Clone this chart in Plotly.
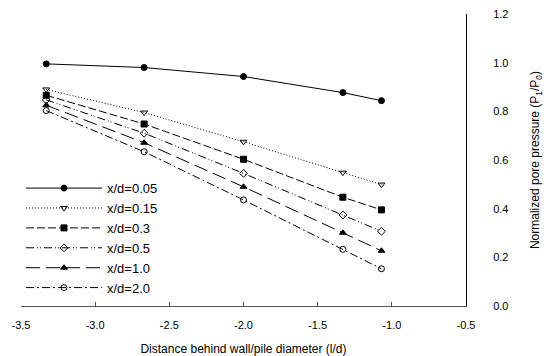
import plotly.graph_objects as go

x_vals = [-3.33, -2.67, -2.0, -1.33, -1.07]
series_names = ["x/d=0.05", "x/d=0.15", "x/d=0.3", "x/d=0.5", "x/d=1.0", "x/d=2.0"]
y_005 = [0.995, 0.98, 0.943, 0.877, 0.844]
y_015 = [0.89, 0.795, 0.675, 0.548, 0.499]
y_03 = [0.866, 0.748, 0.603, 0.447, 0.395]
y_05 = [0.847, 0.71, 0.545, 0.374, 0.307]
y_10 = [0.825, 0.671, 0.49, 0.301, 0.227]
y_20 = [0.803, 0.634, 0.436, 0.233, 0.153]
series_values = [y_005, y_015, y_03, y_05, y_10, y_20]

x_tickvals = [-3.5, -3.0, -2.5, -2.0, -1.5, -1.0, -0.5]
x_ticktext = ["-3.5", "-3.0", "-2.5", "-2.0", "-1.5", "-1.0", "-0.5"]
y_tickvals = [0.0, 0.2, 0.4, 0.6, 0.8, 1.0, 1.2]
y_ticktext = ["0.0", "0.2", "0.4", "0.6", "0.8", "1.0", "1.2"]

dashes = ["solid", "1px,2px", "8px,3px", "8px,3px,1px,2px,1px,3px", "14px,6px", "8px,3px,2px,3px"]
symbols = ["circle", "triangle-down-open", "square", "diamond-open", "triangle-up", "circle-open"]

FONT = "Liberation Sans, Arial, sans-serif"

fig = go.Figure()
for name, ys, dash, sym in zip(series_names, series_values, dashes, symbols):
    fig.add_trace(go.Scatter(
        x=x_vals, y=ys, name=name, mode="lines+markers",
        line=dict(color="black", width=1, dash=dash),
        marker=dict(symbol=sym, size=6, color="black",
                    line=dict(color="black", width=1)),
    ))

fig.update_layout(
    width=544, height=356,
    margin=dict(l=21, r=78, t=14, b=50),
    paper_bgcolor="white", plot_bgcolor="white",
    font=dict(family=FONT, size=12, color="black"),
    showlegend=True,
    legend=dict(x=0.0, y=0.455, xanchor="left", yanchor="top",
                font=dict(size=13, family=FONT), bgcolor="rgba(0,0,0,0)",
                itemwidth=76, tracegroupgap=0),
    xaxis=dict(range=[-3.5, -0.5], tickvals=x_tickvals, ticktext=x_ticktext,
               automargin=False,
               showgrid=False, zeroline=False, showline=True, linecolor="#555",
               linewidth=1, ticks="inside", ticklen=4, tickcolor="#555",
               tickfont=dict(size=11), ticklabelstandoff=9,
               title=dict(text="Distance behind wall/pile diameter (l/d)",
                          font=dict(size=12), standoff=20)),
    yaxis=dict(range=[0, 1.2], tickvals=y_tickvals, ticktext=y_ticktext,
               automargin=False,
               side="right", showgrid=False, zeroline=False, showline=True,
               linecolor="black", linewidth=1, ticks="", tickfont=dict(size=11),
               ticklabelstandoff=24,
               title=dict(text="Normalized pore pressure (P<sub>1</sub>/P<sub>0</sub>)",
                          font=dict(size=12), standoff=24)),
)

fig.write_html("out.html")
